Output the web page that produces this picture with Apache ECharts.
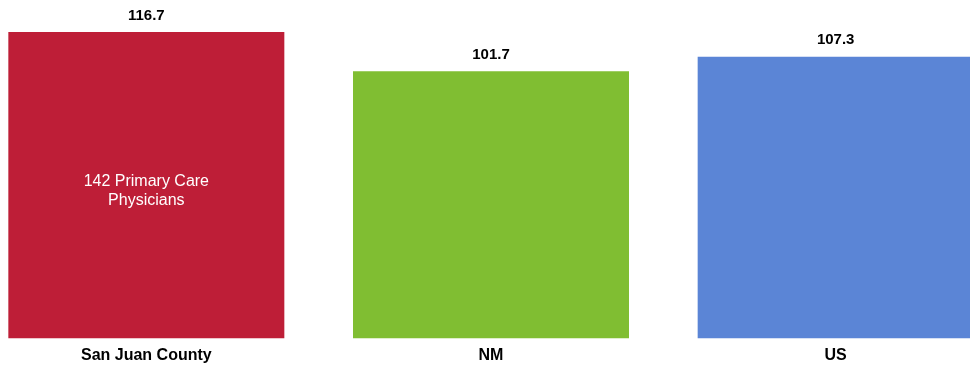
<!DOCTYPE html>
<html>
<head>
<meta charset="utf-8">
<script src="https://cdn.jsdelivr.net/npm/echarts@6/dist/echarts.min.js"></script>
<style>
  html, body { margin: 0; padding: 0; background: #fff; overflow: hidden; }
  /* the plot runs a bit past both edges of the window, as in the original */
  #chart { position: absolute; left: -26px; top: 0; width: 1034px; height: 375px; }
</style>
</head>
<body>
<div id="chart"></div>
<script>
var categories = ['San Juan County', 'NM', 'US'];
var values = [116.7, 101.7, 107.3];
var notes = ['142 Primary Care\nPhysicians', '', ''];

var barColors = ['#be1e37', '#80be32', '#5b85d6'];
var font = '"Liberation Sans", Arial, sans-serif';

var myChart = echarts.init(document.getElementById('chart'));

var barData = values.map(function (v, i) {
  return { value: v, itemStyle: { color: barColors[i] } };
});

// the in-bar note sits on its own series so the value label stays on top
var noteData = values.map(function (v, i) {
  return {
    value: notes[i] ? v : '-',
    label: { show: !!notes[i], formatter: notes[i] }
  };
});

var option = {
  animation: false,
  grid: { left: 0, right: 0, top: 23.3, bottom: 36.7 },
  xAxis: {
    type: 'category',
    data: categories,
    axisLine: { show: false },
    axisTick: { show: false },
    axisLabel: {
      margin: 9,
      color: '#000',
      fontFamily: font,
      fontSize: 16,
      fontWeight: 'bold'
    }
  },
  yAxis: {
    type: 'value',
    min: 0,
    max: 120,
    show: false,
    splitLine: { show: false }
  },
  series: [
    {
      type: 'bar',
      barWidth: 276,
      data: barData,
      label: {
        show: true,
        position: 'top',
        distance: 9,
        color: '#000',
        fontFamily: font,
        fontSize: 15,
        fontWeight: 'bold',
        formatter: function (p) { return p.value.toFixed(1); }
      }
    },
    {
      type: 'bar',
      barWidth: 276,
      barGap: '-100%',
      data: noteData,
      itemStyle: { color: 'rgba(0,0,0,0)' },
      label: {
        position: 'inside',
        offset: [0, 6],
        color: '#fff',
        fontFamily: font,
        fontSize: 16,
        lineHeight: 19
      },
      silent: true
    }
  ]
};

myChart.setOption(option);
</script>
</body>
</html>
